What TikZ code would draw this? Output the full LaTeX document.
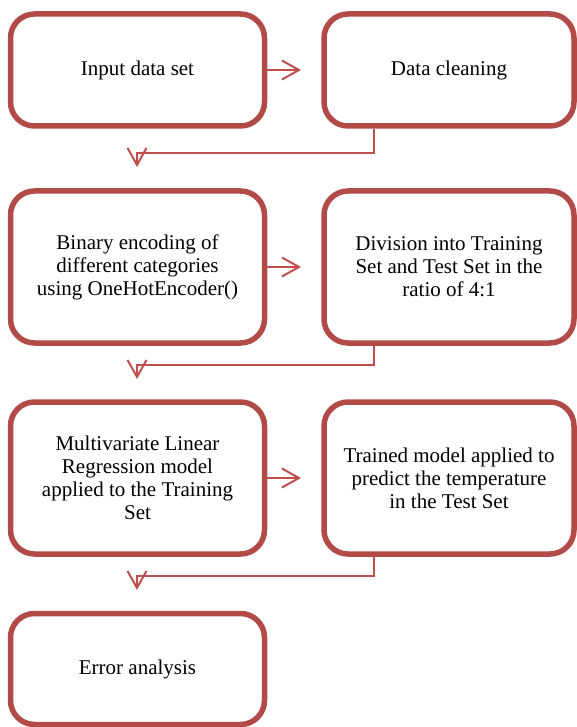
\documentclass[tikz,border=0pt]{standalone}
\usepackage{fontspec}
\setmainfont{Liberation Serif}
\usetikzlibrary{arrows.meta}
\definecolor{boxred}{RGB}{178,75,72}
\definecolor{linered}{RGB}{192,80,77}
\begin{document}
\begin{tikzpicture}[x=1pt,y=-1pt,
  stepbox/.style={draw=boxred,line width=5.5pt,rounded corners=24pt,fill=white,
    inner sep=0pt,align=center,font=\fontsize{21}{23}\selectfont},
  conn/.style={draw=linered,line width=2pt,
    -{Straight Barb[length=17pt,width=19pt,line width=2pt]}}]
\useasboundingbox (0,0) rectangle (577,727);
% boxes
\node[stepbox,minimum width=254pt,minimum height=112pt] (b1) at (137.5,70) {Input data set};
\node[stepbox,minimum width=250pt,minimum height=112pt] (b2) at (449,70) {Data cleaning};
\node[stepbox,minimum width=254pt,minimum height=152pt] (b3) at (137.5,267) {Binary encoding of\\different categories\\using OneHotEncoder()};
\node[stepbox,minimum width=250pt,minimum height=152pt] (b4) at (449,267) {Division into Training\\Set and Test Set in the\\ratio of 4:1};
\node[stepbox,minimum width=254pt,minimum height=152pt] (b5) at (137.5,478) {Multivariate Linear\\Regression model\\applied to the Training\\Set};
\node[stepbox,minimum width=250pt,minimum height=152pt] (b6) at (449,478) {Trained model applied to\\predict the temperature\\in the Test Set};
\node[stepbox,minimum width=254pt,minimum height=111pt] (b7) at (137.5,669) {Error analysis};
% coordinates for connector ends
\coordinate (t1) at (301,70);
\coordinate (t2) at (301,267);
\coordinate (t3) at (301,479);
\coordinate (d1) at (137,167);
\coordinate (d2) at (137,379);
\coordinate (d3) at (137,590);
% horizontal arrows
\draw[conn] (b1.east) -- (t1);
\draw[conn] (b3.east) -- (t2);
\draw[conn] (b5.east) -- (t3 |- b5.east);
% return connectors
\draw[conn] (b2.south -| 373.5,0) -- (373.5,153) -- (137,153) -- (d1);
\draw[conn] (b4.south -| 373.5,0) -- (373.5,365) -- (137,365) -- (d2);
\draw[conn] (b6.south -| 373.5,0) -- (373.5,576) -- (137,576) -- (d3);
\end{tikzpicture}
\end{document}
